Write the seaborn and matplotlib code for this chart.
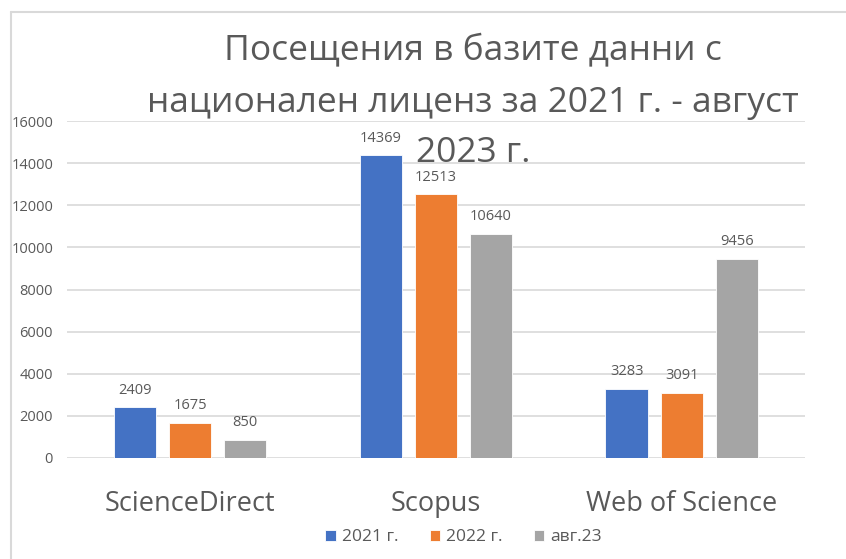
import pandas as pd
import matplotlib.pyplot as plt
import seaborn as sns
from matplotlib.lines import Line2D

databases = ['ScienceDirect', 'Scopus', 'Web of Science']
periods = ['2021 г.', '2022 г.', 'авг.23']
visits_2021 = [2409, 14369, 3283]
visits_2022 = [1675, 12513, 3091]
visits_aug23 = [850, 10640, 9456]
y_ticks = [0, 2000, 4000, 6000, 8000, 10000, 12000, 14000, 16000]
title_lines = ['Посещения в базите данни с', 'национален лиценз за 2021 г. - август', '2023 г.']

df = pd.DataFrame({
    'database': databases * 3,
    'period': [p for p in periods for _ in databases],
    'visits': visits_2021 + visits_2022 + visits_aug23,
})

sns.set_theme(style='white')
plt.rcParams['font.family'] = ['Open Sans', 'DejaVu Sans']
text_color = '#595959'
grid_color = '#D9D9D9'

fig = plt.figure(figsize=(8.46, 5.59), dpi=100)
ax = fig.add_axes([0.0792, 0.1807, 0.8723, 0.6028])

sns.barplot(
    data=df,
    x='database',
    y='visits',
    hue='period',
    hue_order=periods,
    palette=['#4472C4', '#ED7D31', '#A5A5A5'],
    saturation=1,
    width=0.671,
    gap=0.22,
    edgecolor='white',
    linewidth=0.6,
    ax=ax)

for container in ax.containers:
    ax.bar_label(container, padding=7, fontsize=10.5, color=text_color)

ax.set_ylim(0, 16000)
ax.set_yticks(y_ticks)
ax.set_xlim(-0.5, 2.5)
ax.yaxis.grid(True, color=grid_color, linewidth=1.2)
ax.set_axisbelow(True)
for side in ['top', 'right', 'left', 'bottom']:
    ax.spines[side].set_visible(False)
ax.tick_params(axis='y', length=0, pad=10, labelsize=10.5, labelcolor=text_color)
ax.tick_params(axis='x', length=0, pad=23, labelsize=19.5, labelcolor=text_color)
ax.set_xlabel('')
ax.set_ylabel('')

ax.legend(loc='center', bbox_to_anchor=(0.548, 0.039), bbox_transform=fig.transFigure,
          ncol=3, frameon=False, fontsize=12.5, labelcolor=text_color,
          handlelength=0.6, handleheight=0.6, handletextpad=0.35, columnspacing=1.8)

for line, y_px in zip(title_lines, [50, 103, 153]):
    fig.text(0.559, 1 - y_px / 559, line, ha='center', va='center',
             fontsize=25.5, color=text_color)

# chart border (cropped)
fig.add_artist(Line2D([11 / 846, 11 / 846], [0, 1 - 12 / 559], color=grid_color, linewidth=1.5,
                      transform=fig.transFigure))
fig.add_artist(Line2D([11 / 846, 1], [1 - 12 / 559, 1 - 12 / 559], color=grid_color, linewidth=1.5,
                      transform=fig.transFigure))

plt.savefig('out.png', dpi=100)
